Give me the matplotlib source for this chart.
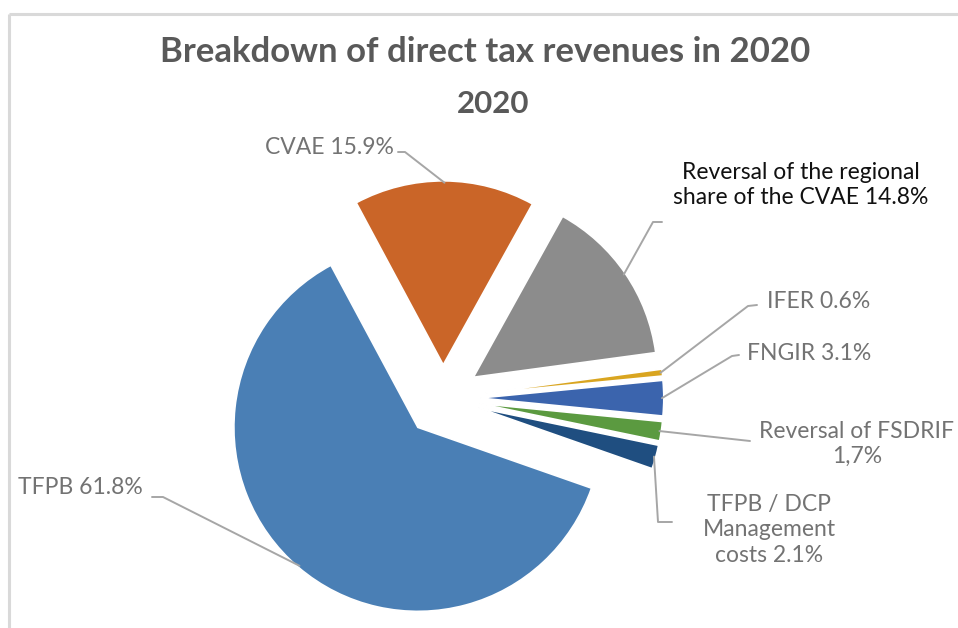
import matplotlib
matplotlib.use("Agg")
import matplotlib.pyplot as plt
import numpy as np

# ---------------- data ----------------
categories = ["TFPB / DCP Management costs", "Reversal of FSDRIF", "FNGIR", "IFER",
              "Reversal of the regional share of the CVAE", "CVAE", "TFPB"]
shares = [2.1, 1.7, 3.1, 0.6, 14.8, 15.9, 61.8]
label_texts = ["TFPB / DCP\nManagement\ncosts 2.1%",
               "Reversal of FSDRIF\n1,7%",
               "FNGIR 3.1%",
               "IFER 0.6%",
               "Reversal of the regional\nshare of the CVAE 14.8%",
               "CVAE 15.9%",
               "TFPB 61.8%"]
title_line1 = "Breakdown of direct tax revenues in 2020"
title_line2 = "2020"

# ---------------- style / layout ----------------
colors = ["#1f4e80", "#5b9a40", "#3b64ad", "#d9a520", "#8c8c8c", "#ca6528", "#4a7fb5"]
explode_frac = [0.2, 0.2, 0.2, 0.2, 0.2, 0.18, 0.21]
W, H = 958, 628
RADIUS = 184
def Y(y):
    return H - y

FONT = ["Liberation Sans Narrow", "Lato", "DejaVu Sans"]
label_color = "#737373"
leader_color = "#a6a6a6"

# leader path points (image px) after the wedge anchor, text position, alignment, colour
label_layout = [
    dict(path=[(658, 522), (672, 522)], pos=(769, 530), ha="center", color=label_color),
    dict(path=[(750, 441)], pos=(857, 444), ha="center", color=label_color),
    dict(path=[(732, 356), (739, 355)], pos=(747, 354), ha="left", color=label_color),
    dict(path=[(748, 306), (757, 305)], pos=(767, 302), ha="left", color=label_color),
    dict(path=[(653, 222), (662, 222)], pos=(801, 185), ha="center", color="#111111"),
    dict(path=[(405, 152), (398, 152)], pos=(394, 148), ha="right", color=label_color),
    dict(path=[(163, 497), (152, 497)], pos=(143, 488), ha="right", color=label_color),
]

fig = plt.figure(figsize=(W / 100, H / 100), dpi=100)
ax = fig.add_axes([0, 0, 1, 1])

wedges, _ = ax.pie(shares, colors=colors, startangle=-19.3, counterclock=True,
                   explode=[e * RADIUS for e in explode_frac],
                   center=(443, Y(398)), radius=RADIUS,
                   wedgeprops=dict(linewidth=1.2, edgecolor="white", antialiased=True))

ax.set_xlim(0, W)
ax.set_ylim(0, H)
ax.set_aspect("equal")
ax.axis("off")

for w, txt, lay in zip(wedges, label_texts, label_layout):
    m = np.deg2rad((w.theta1 + w.theta2) / 2)
    cx, cy = w.center
    a = (cx + w.r * 0.99 * np.cos(m), cy + w.r * 0.99 * np.sin(m))
    xs = [a[0]] + [p[0] for p in lay["path"]]
    ys = [a[1]] + [Y(p[1]) for p in lay["path"]]
    ax.plot(xs, ys, color=leader_color, lw=1.4, solid_capstyle="round", zorder=3)
    ax.text(lay["pos"][0], Y(lay["pos"][1]), txt, ha=lay["ha"], va="center",
            color=lay["color"], fontsize=16.5, family=FONT, linespacing=1.25,
            multialignment="center", zorder=4)

# title
ax.text(485, Y(52), title_line1, ha="center", va="center", fontsize=25,
        fontweight="bold", color="#595959", family=FONT)
ax.text(493, Y(104), title_line2, ha="center", va="center", fontsize=22.5,
        fontweight="bold", color="#595959", family=FONT)

# frame border (light grey, top and left)
ax.plot([9, W], [Y(14), Y(14)], color="#d9d9d9", lw=2.2, clip_on=False, solid_capstyle="butt")
ax.plot([9.5, 9.5], [Y(14), 0], color="#d9d9d9", lw=2.2, clip_on=False, solid_capstyle="butt")

fig.savefig("out.png", dpi=100, facecolor="white")
